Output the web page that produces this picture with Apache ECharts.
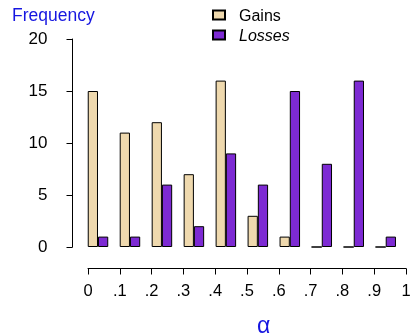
<!DOCTYPE html>
<html><head><meta charset="utf-8">
<script src="https://cdn.jsdelivr.net/npm/echarts@6/dist/echarts.min.js"></script>
<style>html,body{margin:0;padding:0;background:#fff}#c{width:418px;height:333px}</style>
</head><body><div id="c"></div>
<script>
const categories = ['0-.1','.1-.2','.2-.3','.3-.4','.4-.5','.5-.6','.6-.7','.7-.8','.8-.9','.9-1'];
const gains = [15, 11, 12, 7, 16, 3, 1, 0, 0, 0];
const losses = [1, 1, 6, 2, 9, 6, 15, 8, 16, 1];
const yTicks = [0, 5, 10, 15, 20];
const xTickLabels = ['0', '.1', '.2', '.3', '.4', '.5', '.6', '.7', '.8', '.9', '1'];

const FONT = 'Liberation Sans, Arial, Helvetica, sans-serif';
const chart = echarts.init(document.getElementById('c'));
chart.setOption({
  animation: false,
  textStyle: { fontFamily: FONT },
  title: [
    { text: 'Frequency', left: 7, top: 2, textStyle: { color: '#1616e0', fontSize: 17.5, fontWeight: 'normal', fontFamily: FONT } },
    { text: 'α', left: 252, top: 310, textStyle: { color: '#1616e0', fontSize: 23, fontWeight: 'normal', fontFamily: FONT } }
  ],
  legend: {
    orient: 'vertical', left: 207, top: 4, itemWidth: 12, itemHeight: 9, itemGap: 4,
    icon: 'rect',
    textStyle: { fontSize: 16, color: '#000', padding: [4, 0, 0, 9], rich: { i: { fontStyle: 'italic', fontSize: 16, color: '#000' } } },
    formatter: n => n === 'Losses' ? '{i|Losses}' : n,
    data: ['Gains', 'Losses']
  },
  grid: [
    { left: 82, right: 16.3, top: 39, bottom: 86 },
    { left: 88, right: 12, top: 39, bottom: 64.5 }
  ],
  xAxis: [
    { type: 'category', gridIndex: 0, data: categories, show: false },
    { type: 'value', gridIndex: 1, min: 0, max: 1, interval: 0.1,
      axisLine: { show: true, lineStyle: { color: '#000', width: 1 } },
      axisTick: { show: true, inside: false, length: 6, lineStyle: { color: '#000' } },
      splitLine: { show: false },
      axisLabel: { color: '#000', fontSize: 16.5, margin: 14, formatter: v => xTickLabels[Math.round(v * 10)] } }
  ],
  yAxis: [
    { type: 'value', gridIndex: 0, min: 0, max: 20, interval: 5, offset: 9.5,
      axisLine: { show: true, lineStyle: { color: '#000', width: 1 } },
      axisTick: { show: true, inside: false, length: 6, lineStyle: { color: '#000' } },
      splitLine: { show: false },
      axisLabel: { color: '#000', fontSize: 17, margin: 25, padding: [6, 0, 0, 0],
        formatter: v => yTicks.includes(v) ? String(v) : '' } },
    { type: 'value', gridIndex: 1, show: false, min: 0, max: 1 }
  ],
  series: [
    { name: 'Gains', type: 'bar', data: gains, xAxisIndex: 0, yAxisIndex: 0, barWidth: 10.25, barGap: '0%',
      itemStyle: { color: '#efd9ae', borderColor: '#000', borderWidth: 1 } },
    { name: 'Losses', type: 'bar', data: losses, xAxisIndex: 0, yAxisIndex: 0, barWidth: 10.25, barGap: '0%',
      itemStyle: { color: '#7d2ad3', borderColor: '#000', borderWidth: 1 } }
  ]
});
</script></body></html>
